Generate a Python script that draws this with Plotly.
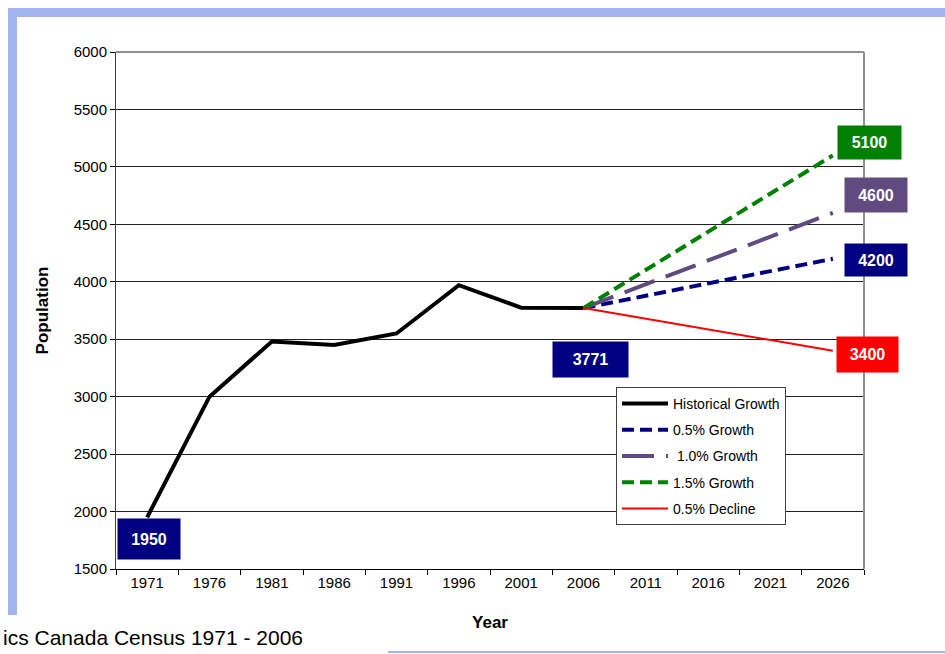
import plotly.graph_objects as go

# ---------------- data ----------------
years = ["1971", "1976", "1981", "1986", "1991", "1996", "2001", "2006",
         "2011", "2016", "2021", "2026"]
hist_years = ["1971", "1976", "1981", "1986", "1991", "1996", "2001", "2006"]
hist_pop = [1950, 3000, 3480, 3450, 3550, 3970, 3775, 3771]
proj_years = ["2006", "2026"]
growth_05 = [3771, 4200]
growth_10 = [3771, 4600]
growth_15 = [3771, 5100]
decline_05 = [3771, 3400]

# ---------------- layout helpers (pixels -> paper) ----------------
W, H = 945, 654
L, R, T, B = 116, 864, 52, 569


def px(x):
    return (x - L) / (R - L)


def py(y):
    return (B - y) / (B - T)


FONT = "Liberation Sans, Arial, sans-serif"
NAVY = "#000080"
PURPLE = "#5F4B7F"
GREEN = "#008000"
RED = "#FF0000"
FRAME = "#A4B4EE"

fig = go.Figure()

fig.add_trace(go.Scatter(x=hist_years, y=hist_pop, mode="lines", name="Historical Growth",
                         line=dict(color="black", width=4), legendgroup="a"))
fig.add_trace(go.Scatter(x=proj_years, y=growth_05, mode="lines", name="0.5% Growth",
                         line=dict(color=NAVY, width=4, dash="12px,6px"), legendgroup="b"))
fig.add_trace(go.Scatter(x=proj_years, y=growth_10, mode="lines", name="\u00a01.0% Growth",
                         line=dict(color=PURPLE, width=4, dash="32px,12px"), legendgroup="c"))
fig.add_trace(go.Scatter(x=proj_years, y=growth_15, mode="lines", name="1.5% Growth",
                         line=dict(color=GREEN, width=4, dash="12px,6px"), legendgroup="d"))
fig.add_trace(go.Scatter(x=proj_years, y=decline_05, mode="lines", name="0.5% Decline",
                         line=dict(color=RED, width=2), legendgroup="e"))

# value labels anchored to data points (x given as category index)
labels = [
    (hist_years[0], hist_pop[0], NAVY, 2, -22, 60, 38),
    (hist_years[-1], hist_pop[-1], NAVY, 7, -51, 73, 33),
    (proj_years[-1], growth_15[-1], GREEN, 37, 13, 61, 31),
    (proj_years[-1], growth_10[-1], PURPLE, 43, 18, 60, 32),
    (proj_years[-1], growth_05[-1], NAVY, 43, -1, 60, 30),
    (proj_years[-1], decline_05[-1], RED, 35, -4, 59, 33),
]
annotations = []
for xv, yv, col, xs, ys, w, h in labels:
    annotations.append(dict(
        x=years.index(xv), y=yv, xref="x", yref="y", text="<b>%d</b>" % yv, showarrow=False,
        xshift=xs, yshift=ys, bgcolor=col, width=w, height=h, borderpad=1,
        font=dict(family=FONT, size=16, color="white"), align="center", valign="middle"))

annotations.append(dict(
    x=px(1), y=py(637), xref="paper", yref="paper", xanchor="left", yanchor="middle",
    text="ics Canada Census 1971 - 2006", showarrow=False,
    font=dict(family=FONT, size=21, color="black")))

shapes = [
    # slide frame decorations
    dict(type="rect", xref="paper", yref="paper", x0=px(8), x1=px(945), y0=py(17), y1=py(8),
         fillcolor=FRAME, line=dict(width=0), layer="below"),
    dict(type="rect", xref="paper", yref="paper", x0=px(8), x1=px(17), y0=py(615), y1=py(8),
         fillcolor=FRAME, line=dict(width=0), layer="below"),
    dict(type="rect", xref="paper", yref="paper", x0=px(388), x1=px(945), y0=py(653), y1=py(651),
         fillcolor=FRAME, line=dict(width=0), layer="below"),
    # plot-area top/right border
    dict(type="line", xref="paper", yref="paper", x0=0, x1=1, y0=1, y1=1,
         line=dict(color="#909090", width=2)),
    dict(type="line", xref="paper", yref="paper", x0=1, x1=1, y0=0, y1=1,
         line=dict(color="#909090", width=2)),
]

fig.update_layout(
    width=W, height=H,
    margin=dict(l=L, r=W - R, t=T, b=H - B),
    paper_bgcolor="white", plot_bgcolor="white",
    font=dict(family=FONT, size=15, color="black"),
    showlegend=True,
    legend=dict(x=px(616), y=py(387), xanchor="left", yanchor="top",
                bgcolor="white", bordercolor="#404040", borderwidth=1,
                font=dict(family=FONT, size=14, color="black"),
                tracegroupgap=5, itemwidth=46),
    annotations=annotations,
    shapes=shapes,
)

fig.update_xaxes(
    type="category", categoryorder="array", categoryarray=years,
    tickvals=years, ticktext=years,
    range=[-0.5, 11.5], tickson="boundaries", ticks="outside", ticklen=5,
    tickcolor="black", showline=True, linecolor="black", linewidth=1,
    showgrid=False, tickfont=dict(family=FONT, size=15),
    title=dict(text="<b>Year</b>", font=dict(family=FONT, size=17), standoff=26),
)
fig.update_yaxes(
    range=[1500, 6000], dtick=500, tick0=1500, ticks="outside", ticklen=5,
    tickcolor="black", showline=True, linecolor="#404040", linewidth=1,
    showgrid=True, gridcolor="#202020", gridwidth=1, zeroline=False,
    tickfont=dict(family=FONT, size=15),
    title=dict(text="<b>Population</b>", font=dict(family=FONT, size=17), standoff=20),
)

fig.write_html("out.html", config={"displayModeBar": False},
               post_script="document.body.style.margin='0';document.body.style.padding='0';")
